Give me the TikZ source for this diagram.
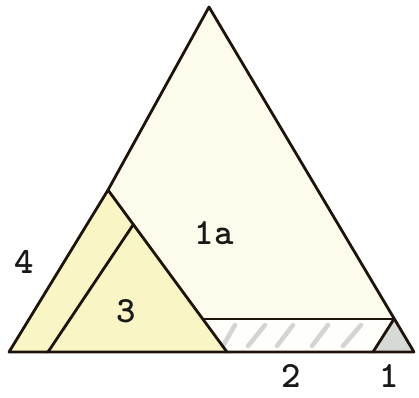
\documentclass[tikz,border=0pt]{standalone}
\begin{document}
\begin{tikzpicture}[x=1pt,y=-1pt,
  edge/.style={line width=2.8pt, line join=round, line cap=round, black!85!brown},
  lbl/.style={font=\ttfamily\bfseries\fontsize{37}{37}\selectfont, text=black!90, inner sep=0pt},
  hatchline/.style={line width=4.5pt, black!17, line cap=round}]
\useasboundingbox (0,0) rectangle (419,397);
\fill[white] (0,0) rectangle (419,397);
% points
\coordinate (L) at (9,352);
\coordinate (J) at (108,190);
\coordinate (T) at (209,7);
\coordinate (R) at (414,352);
\coordinate (M) at (227,352);
\coordinate (IL) at (48,352);
\coordinate (IA) at (133,225);
\coordinate (SL) at (203,319);
\coordinate (SR) at (394,319);
\coordinate (G) at (373,352);
% fills
\fill[fill={rgb,255:red,253;green,251;blue,236}] (L) -- (J) -- (T) -- (R) -- cycle;
\fill[fill={rgb,255:red,249;green,245;blue,197}] (L) -- (J) -- (M) -- cycle;
\fill[fill={rgb,255:red,254;green,254;blue,250}] (SL) -- (SR) -- (G) -- (M) -- cycle;
\fill[fill={rgb,255:red,214;green,218;blue,214}] (G) -- (SR) -- (R) -- cycle;
% hatching
\foreach \a/\b in {223/235,248/265,277/293,312/328,343/361}
  \draw[hatchline] (\a,346) -- (\b,325);
% lines
\draw[edge] (L) -- (J) -- (T) -- (R) -- cycle;
\draw[edge] (J) -- (M);
\draw[edge] (IL) -- (IA);
\draw[edge] (SL) -- (SR);
\draw[edge] (G) -- (SR);
% labels
\node[lbl] (n4) at (24,262) {4};
\node[lbl] (n3) at (126,311) {3};
\node[lbl] (n1a) at (214,233) {1a};
\node[lbl] (n2) at (291,376) {2};
\node[lbl] (n1) at (389,376) {1};
\end{tikzpicture}
\end{document}
